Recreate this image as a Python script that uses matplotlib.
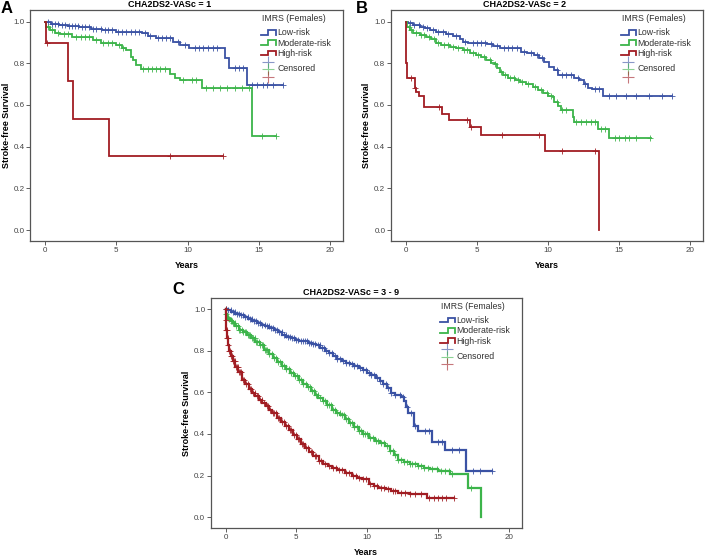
import matplotlib
matplotlib.use("Agg")
import matplotlib.pyplot as plt
import numpy as np

plt.rcParams['font.family'] = ['Liberation Sans', 'DejaVu Sans']

BLUE = '#3a52a4'
GREEN = '#3cb44a'
RED = '#a11d23'

# ---- panel A: CHA2DS2-VASc = 1 ----
a_low_t = [0, 0.4, 1.0, 1.6, 2.4, 3.2, 4.0, 5.0, 6.8, 7.2, 7.8, 9.0, 9.5, 10.1, 12.6, 12.9, 14.15, 16.7]
a_low_s = [1.0, 0.99, 0.985, 0.98, 0.972, 0.965, 0.96, 0.952, 0.944, 0.932, 0.923, 0.90, 0.888, 0.872, 0.824, 0.776, 0.696, 0.696]
a_low_c = [0.2, 0.5, 0.7, 0.9, 1.2, 1.4, 1.7, 1.9, 2.1, 2.3, 2.6, 2.8, 3.1, 3.4, 3.6, 3.9, 4.2, 4.4, 4.7,
           5.1, 5.4, 5.7, 6.0, 6.3, 6.6, 7.0, 7.4, 7.9, 8.2, 8.5, 8.8, 9.3, 9.8, 10.5, 10.8, 11.1, 11.4,
           11.8, 12.1, 13.3, 13.6, 13.9, 14.5, 14.9, 15.3, 15.6, 16.0, 16.7]
a_mod_t = [0, 0.1, 0.35, 0.7, 1.05, 1.9, 3.4, 3.9, 5.0, 5.4, 5.7, 6.0, 6.2, 6.4, 6.7, 8.75, 9.1, 9.5, 11.0, 14.5, 16.2]
a_mod_s = [1.0, 0.976, 0.96, 0.944, 0.94, 0.928, 0.912, 0.896, 0.888, 0.872, 0.864, 0.832, 0.816, 0.792, 0.771,
           0.749, 0.728, 0.72, 0.68, 0.453, 0.453]
a_mod_c = [0.2, 0.5, 0.9, 1.3, 1.6, 2.2, 2.5, 2.8, 3.1, 3.6, 4.1, 4.4, 4.7, 5.2, 5.5, 6.9, 7.2, 7.5, 7.8,
           8.1, 8.4, 9.7, 10.3, 10.6, 11.3, 11.8, 12.3, 12.8, 13.3, 13.8, 14.3, 15.2, 16.2]
a_high_t = [0, 0.05, 1.6, 1.95, 4.5, 12.5]
a_high_s = [1.0, 0.895, 0.715, 0.535, 0.357, 0.357]
a_high_c = [0.15, 8.8, 12.5]

# ---- panel B: CHA2DS2-VASc = 2 ----
b_low_t = [0, 0.16, 0.5, 1.0, 1.33, 1.7, 2.15, 2.85, 3.3, 3.8, 4.0, 4.4, 5.7, 6.1, 6.6, 8.1, 8.5, 9.0, 9.4,
           9.75, 10.1, 10.45, 10.7, 11.8, 12.2, 12.5, 12.8, 13.1, 13.85, 18.7]
b_low_s = [1.0, 0.992, 0.984, 0.976, 0.968, 0.957, 0.949, 0.941, 0.931, 0.915, 0.904, 0.896, 0.893, 0.883,
           0.872, 0.856, 0.848, 0.84, 0.824, 0.808, 0.784, 0.768, 0.744, 0.731, 0.72, 0.70, 0.68, 0.675,
           0.643, 0.643]
b_low_c = [0.3, 0.6, 0.9, 1.2, 1.5, 1.9, 2.3, 2.6, 3.0, 3.5, 4.2, 4.7, 5.0, 5.3, 5.6, 6.0, 6.4, 6.9, 7.2,
           7.5, 7.8, 8.3, 8.8, 9.2, 9.6, 10.6, 11.0, 11.3, 11.6, 12.1, 12.6, 13.3, 13.6, 14.3, 14.8, 15.5,
           16.2, 17.1, 18.0, 18.7]
b_mod_t = [0, 0.1, 0.28, 0.5, 1.0, 1.45, 1.8, 2.15, 2.5, 3.1, 3.55, 4.0, 4.5, 4.95, 5.3, 5.65, 6.0, 6.25,
           6.4, 6.6, 6.85, 7.2, 7.65, 8.0, 8.45, 8.95, 9.3, 9.65, 10.0, 10.35, 10.45, 10.7, 10.9, 11.75,
           11.8, 13.5, 14.3, 17.25]
b_mod_s = [1.0, 0.976, 0.96, 0.944, 0.936, 0.928, 0.915, 0.899, 0.888, 0.88, 0.872, 0.861, 0.851, 0.84,
           0.829, 0.816, 0.803, 0.797, 0.776, 0.76, 0.744, 0.731, 0.72, 0.712, 0.70, 0.688, 0.672, 0.656,
           0.643, 0.64, 0.616, 0.595, 0.575, 0.544, 0.52, 0.485, 0.44, 0.44]
b_mod_c = [0.2, 0.4, 0.7, 1.1, 1.3, 1.6, 2.0, 2.3, 2.7, 3.0, 3.3, 3.7, 4.1, 4.3, 4.7, 5.1, 5.5, 5.9, 6.3,
           6.7, 7.0, 7.3, 7.6, 7.9, 8.2, 8.6, 9.1, 9.5, 9.9, 10.2, 10.6, 11.0, 11.3, 12.0, 12.3, 12.7,
           13.0, 13.3, 13.7, 14.0, 14.7, 15.0, 15.4, 15.7, 16.2, 17.2]
b_high_t = [0, 0.03, 0.08, 0.63, 0.75, 0.95, 1.3, 2.57, 3.05, 4.5, 5.3, 9.8, 13.6]
b_high_s = [1.0, 0.80, 0.728, 0.68, 0.66, 0.643, 0.589, 0.556, 0.528, 0.494, 0.456, 0.381, 0.0]
b_high_c = [0.35, 0.65, 2.35, 4.3, 4.6, 6.8, 9.4, 11.0, 13.3]

# ---- panel C: CHA2DS2-VASc = 3 - 9 ----
c_low_t = [0, 0.15, 0.4, 0.7, 1.0, 1.3, 1.6, 1.9, 2.2, 2.5, 2.8, 3.1, 3.4, 3.7, 4.0, 4.3, 4.6, 4.9, 5.2,
           5.5, 5.8, 6.1, 6.4, 6.7, 7.0, 7.3, 7.6, 7.9, 8.2, 8.5, 8.8, 9.1, 9.4, 9.7, 10.0, 10.3, 10.6,
           10.9, 11.1, 11.4, 11.7, 12.0, 12.4, 12.6, 12.75, 12.9, 13.3, 13.6, 14.55, 15.5, 16.97, 18.8]
c_low_s = [1.0, 0.995, 0.988, 0.98, 0.972, 0.962, 0.952, 0.943, 0.935, 0.927, 0.918, 0.91, 0.9, 0.889,
           0.878, 0.867, 0.86, 0.855, 0.85, 0.846, 0.84, 0.834, 0.828, 0.815, 0.80, 0.788, 0.775, 0.762,
           0.75, 0.743, 0.736, 0.728, 0.718, 0.706, 0.693, 0.683, 0.672, 0.655, 0.64, 0.62, 0.595, 0.588,
           0.58, 0.56, 0.53, 0.50, 0.437, 0.413, 0.36, 0.325, 0.221, 0.221]
c_low_c = [0.05, 0.2, 0.35, 0.5, 0.65, 0.8, 0.95, 1.1, 1.25, 1.4, 1.55, 1.7, 1.85, 2.0, 2.15, 2.3, 2.45,
           2.6, 2.75, 2.9, 3.05, 3.2, 3.35, 3.5, 3.65, 3.8, 3.95, 4.1, 4.25, 4.4, 4.55, 4.7, 4.85, 5.0,
           5.15, 5.3, 5.45, 5.6, 5.75, 5.9, 6.05, 6.2, 6.35, 6.5, 6.65, 6.8, 6.95, 7.1, 7.3, 7.5, 7.7,
           7.9, 8.1, 8.3, 8.5, 8.7, 8.9, 9.1, 9.3, 9.5, 9.7, 9.9, 10.1, 10.3, 10.5, 10.7, 10.9, 11.1,
           11.3, 11.5, 11.7, 12.0, 12.3, 12.5, 12.8, 13.1, 13.4, 14.1, 14.4, 15.0, 15.3, 16.0, 16.5,
           17.5, 18.0, 18.8]
c_mod_t = [0, 0.03, 0.1, 0.2, 0.35, 0.5, 0.7, 0.94, 1.2, 1.5, 1.8, 2.1, 2.4, 2.7, 3.05, 3.35, 3.65, 3.95,
           4.25, 4.55, 4.85, 5.16, 5.45, 5.75, 6.05, 6.3, 6.56, 6.85, 7.15, 7.5, 7.8, 8.1, 8.45, 8.75,
           9.05, 9.39, 9.7, 10.1, 10.56, 10.9, 11.27, 11.6, 11.9, 12.2, 12.6, 13.0, 13.6, 14.0, 14.44,
           15.0, 15.85, 17.1, 18.07]
c_mod_s = [1.0, 0.98, 0.965, 0.955, 0.945, 0.935, 0.92, 0.90, 0.89, 0.875, 0.86, 0.843, 0.827, 0.805,
           0.785, 0.765, 0.745, 0.728, 0.712, 0.695, 0.678, 0.66, 0.643, 0.625, 0.607, 0.59, 0.575, 0.558,
           0.538, 0.517, 0.5, 0.49, 0.47, 0.455, 0.435, 0.413, 0.4, 0.381, 0.365, 0.355, 0.341, 0.32,
           0.3, 0.277, 0.265, 0.255, 0.245, 0.238, 0.229, 0.221, 0.205, 0.141, 0.0]
c_mod_c = [0.05, 0.15, 0.25, 0.35, 0.45, 0.55, 0.65, 0.75, 0.85, 0.95, 1.05, 1.15, 1.25, 1.35, 1.45,
           1.55, 1.65, 1.75, 1.85, 1.95, 2.05, 2.15, 2.25, 2.35, 2.45, 2.55, 2.65, 2.75, 2.85, 2.95,
           3.1, 3.25, 3.4, 3.55, 3.7, 3.85, 4.0, 4.15, 4.3, 4.45, 4.6, 4.75, 4.9, 5.05, 5.2, 5.35, 5.5,
           5.65, 5.8, 5.95, 6.1, 6.25, 6.4, 6.55, 6.7, 6.85, 7.0, 7.15, 7.3, 7.45, 7.6, 7.75, 7.9, 8.05,
           8.2, 8.35, 8.5, 8.65, 8.8, 8.95, 9.1, 9.25, 9.4, 9.55, 9.7, 9.85, 10.0, 10.2, 10.4, 10.6,
           10.8, 11.0, 11.2, 11.4, 11.6, 11.8, 12.0, 12.2, 12.4, 12.6, 12.8, 13.0, 13.2, 13.4, 13.6,
           13.8, 14.0, 14.3, 14.6, 14.9, 15.2, 15.5, 15.8, 16.0, 17.3]
c_high_t = [0, 0.02, 0.05, 0.1, 0.16, 0.23, 0.35, 0.5, 0.7, 0.9, 1.17, 1.4, 1.63, 1.87, 2.1, 2.35, 2.6,
            2.82, 3.05, 3.28, 3.63, 3.9, 4.2, 4.46, 4.75, 5.05, 5.35, 5.63, 5.9, 6.2, 6.57, 6.9, 7.2, 7.5,
            7.9, 8.4, 8.9, 9.25, 9.6, 10.1, 10.45, 10.8, 11.3, 11.7, 12.2, 13.0, 14.2, 16.1]
c_high_s = [1.0, 0.95, 0.90, 0.86, 0.83, 0.80, 0.775, 0.75, 0.725, 0.70, 0.66, 0.64, 0.618, 0.597, 0.582,
            0.565, 0.548, 0.533, 0.517, 0.50, 0.477, 0.46, 0.44, 0.42, 0.397, 0.375, 0.353, 0.333, 0.315,
            0.295, 0.269, 0.255, 0.245, 0.237, 0.225, 0.21, 0.197, 0.19, 0.181, 0.157, 0.15, 0.141, 0.133,
            0.125, 0.117, 0.109, 0.093, 0.093]
c_high_c = [0.01, 0.03, 0.06, 0.08, 0.12, 0.15, 0.19, 0.25, 0.3, 0.4, 0.45, 0.55, 0.6, 0.65, 0.75, 0.8,
            0.85, 0.95, 1.0, 1.1, 1.2, 1.3, 1.45, 1.55, 1.7, 1.8, 1.95, 2.05, 2.2, 2.3, 2.45, 2.55, 2.7,
            2.9, 3.0, 3.15, 3.35, 3.45, 3.55, 3.7, 3.8, 4.0, 4.1, 4.3, 4.4, 4.55, 4.65, 4.85, 4.95, 5.1,
            5.2, 5.4, 5.5, 5.7, 5.8, 6.0, 6.1, 6.3, 6.4, 6.6, 6.75, 7.0, 7.3, 7.6, 7.8, 8.0, 8.2, 8.5,
            8.7, 9.0, 9.2, 9.4, 9.7, 9.9, 10.2, 10.5, 10.7, 11.0, 11.2, 11.5, 11.8, 12.0, 12.4, 12.7,
            13.0, 13.4, 13.8, 14.4, 14.7, 15.0, 15.3, 15.6, 16.1]

group_labels = ['Low-risk', 'Moderate-risk', 'High-risk']
colors = [BLUE, GREEN, RED]


def km(ax, t, s, cens, color, lw=1.3, ms=4.5):
    t = np.asarray(t)
    s = np.asarray(s)
    ax.plot(t, s, drawstyle='steps-post', color=color, lw=lw, solid_joinstyle='miter')
    c = np.asarray(cens)
    idx = np.searchsorted(t, c, side='right') - 1
    ax.plot(c, s[idx], ls='none', marker='+', ms=ms, mew=0.7, color=color, alpha=0.85)


def legend(ax):
    tr = ax.transAxes
    ax.text(0.843, 0.962, 'IMRS (Females)', transform=tr, ha='center', va='center',
            fontsize=6.3, color='#333333')
    rows = [0.902, 0.857, 0.812]
    for y, lab, col in zip(rows, group_labels, colors):
        xs = [0.738, 0.762, 0.762, 0.786, 0.786]
        ys = [y - 0.008, y - 0.008, y + 0.012, y + 0.012, y - 0.008]
        ax.plot(xs, ys, transform=tr, color=col, lw=1.3, clip_on=False, solid_joinstyle='miter')
        ax.text(0.790, y, lab, transform=tr, ha='left', va='center', fontsize=6.3, color='#333333')
    for y, col in zip([0.777, 0.745, 0.711], colors):
        ax.plot([0.761], [y], transform=tr, marker='+', ms=8, mew=0.8, color=col,
                alpha=0.6, clip_on=False)
    ax.text(0.790, 0.745, 'Censored', transform=tr, ha='left', va='center',
            fontsize=6.3, color='#333333')


def style(ax, title, tx):
    ax.set_xlim(-1.05, 20.9)
    ax.set_ylim(-0.053, 1.055)
    ax.set_xticks([0, 5, 10, 15, 20])
    ax.set_yticks([0.0, 0.2, 0.4, 0.6, 0.8, 1.0])
    ax.set_yticklabels(['0.0', '0.2', '0.4', '0.6', '0.8', '1.0'])
    ax.tick_params(labelsize=5.8, length=3, width=0.6, colors='#444444', pad=1)
    for sp in ax.spines.values():
        sp.set_color('#555555')
        sp.set_linewidth(0.9)
    ax.set_title(title, fontsize=6.5, fontweight='bold', pad=2.5, x=tx)
    ax.set_xlabel('Years', fontsize=6.5, fontweight='bold', labelpad=5)
    ax.set_ylabel('Stroke-free Survival', fontsize=6.5, fontweight='bold', labelpad=2)


fig = plt.figure(figsize=(7.08, 5.57), dpi=100)
axA = fig.add_axes([0.0424, 0.567, 0.442, 0.415])
axB = fig.add_axes([0.552, 0.567, 0.441, 0.415])
axC = fig.add_axes([0.2976, 0.052, 0.439, 0.413])

panels = [
    (axA, 'CHA2DS2-VASc = 1', 0.447, 1.3, 4.5,
     [(a_low_t, a_low_s, a_low_c), (a_mod_t, a_mod_s, a_mod_c), (a_high_t, a_high_s, a_high_c)]),
    (axB, 'CHA2DS2-VASc = 2', 0.428, 1.3, 4.5,
     [(b_low_t, b_low_s, b_low_c), (b_mod_t, b_mod_s, b_mod_c), (b_high_t, b_high_s, b_high_c)]),
    (axC, 'CHA2DS2-VASc = 3 - 9', 0.451, 1.6, 3.8,
     [(c_low_t, c_low_s, c_low_c), (c_mod_t, c_mod_s, c_mod_c), (c_high_t, c_high_s, c_high_c)]),
]

for ax, title, tx, lw, ms, curves in panels:
    for (t, s, c), col in zip(curves, colors):
        km(ax, t, s, c, col, lw, ms)
    style(ax, title, tx)
    legend(ax)

fig.text(0.001, 0.999, 'A', fontsize=12, fontweight='bold', va='top', ha='left')
fig.text(0.503, 0.999, 'B', fontsize=12, fontweight='bold', va='top', ha='left')
fig.text(0.243, 0.493, 'C', fontsize=12, fontweight='bold', va='top', ha='left')

fig.savefig('out.png', dpi=100)
